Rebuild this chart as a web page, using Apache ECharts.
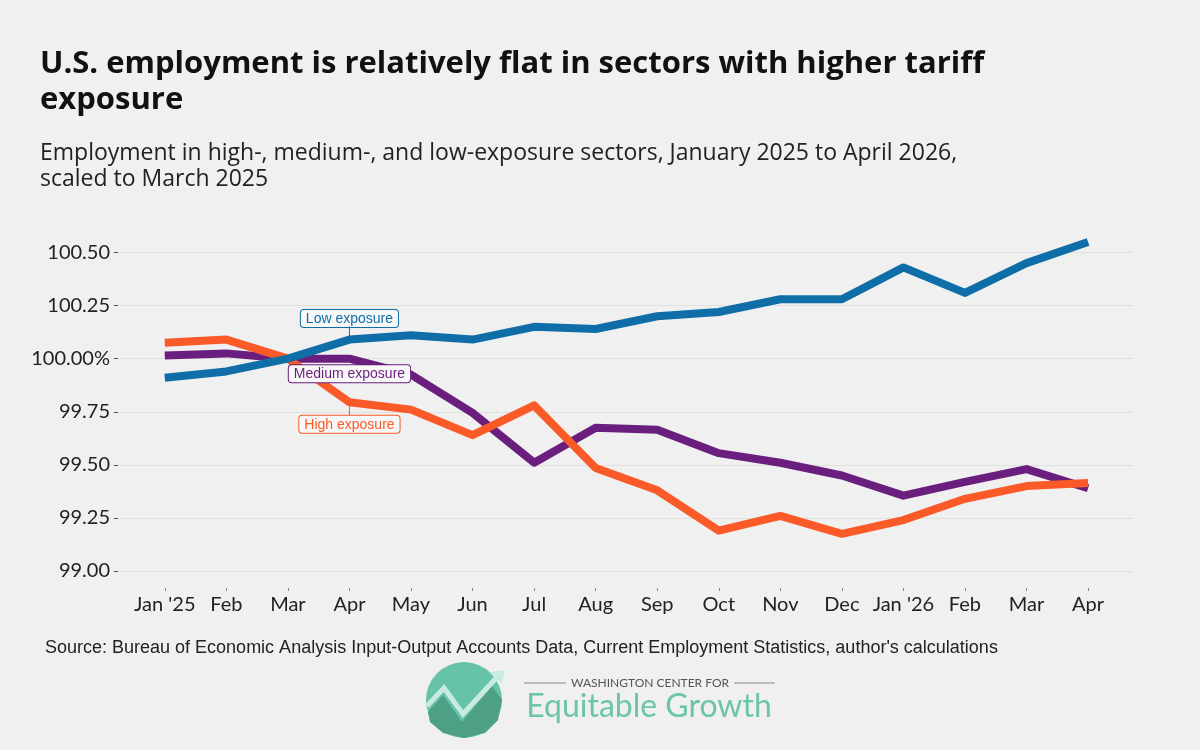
<!DOCTYPE html>
<html>
<head>
<meta charset="utf-8">
<script src="https://cdn.jsdelivr.net/npm/echarts@6/dist/echarts.min.js"></script>
<style>
  html, body { margin: 0; padding: 0; background: #f0f0f0; }
  #chart { width: 1200px; height: 750px; }
</style>
</head>
<body>
<div id="chart"></div>
<script>
// months Jan 2025 .. Apr 2026
let months = ["Jan '25", 'Feb', 'Mar', 'Apr', 'May', 'Jun', 'Jul', 'Aug', 'Sep', 'Oct', 'Nov', 'Dec', "Jan '26", 'Feb', 'Mar', 'Apr'];
let lowExposure = [99.91, 99.94, 100.00, 100.09, 100.11, 100.09, 100.15, 100.14, 100.20, 100.22, 100.28, 100.28, 100.43, 100.31, 100.45, 100.55];
let mediumExposure = [100.015, 100.025, 100.00, 100.00, 99.925, 99.745, 99.51, 99.675, 99.665, 99.555, 99.51, 99.45, 99.355, 99.42, 99.48, 99.39];
let highExposure = [100.075, 100.09, 100.00, 99.795, 99.76, 99.64, 99.78, 99.485, 99.38, 99.19, 99.26, 99.175, 99.24, 99.34, 99.40, 99.415];
let yTicks = [99.00, 99.25, 99.50, 99.75, 100.00, 100.25, 100.50];
let monthIdx = months.map((m, i) => i);

let labelAt = 3; // Apr '25

function pts(arr) {
  return arr.map((v, i) => [i, v]);
}

// stem: 'up' = box above the line, 'down' = box below, null = no stem
function makeSeries(name, arr, color, dy, stem) {
  let text = '{box|' + name + '}';
  if (stem === 'up') text = text + '\n{stem| }';
  if (stem === 'down') text = '{stem| }\n' + text;
  let data = pts(arr).map((p, i) => {
    if (i !== labelAt) return p;
    return {
      value: p,
      label: {
        show: true,
        formatter: text,
        position: 'inside',
        align: 'center',
        rich: {
          box: {
            color: color,
            fontFamily: 'Liberation Sans',
            fontSize: 14,
            lineHeight: 16,
            backgroundColor: '#f8f8f8',
            borderColor: color,
            borderWidth: 1,
            borderRadius: 3,
            padding: [2, 5, 1, 5]
          },
          stem: {
            width: 1,
            height: 12,
            fontSize: 1,
            backgroundColor: color
          }
        }
      }
    };
  });
  return {
    name: name,
    type: 'line',
    data: data,
    showSymbol: true,
    symbol: 'circle',
    symbolSize: 0,
    lineStyle: { color: color, width: 8, join: 'round' },
    itemStyle: { color: color },
    label: { show: false },
    labelLayout: function (params) {
      if (params.dataIndex === labelAt) return { dy: dy };
      return {};
    },
    z: 3
  };
}

var chart = echarts.init(document.getElementById('chart'));

let option = {
  backgroundColor: '#f0f0f0',
  animation: false,
  title: [
    {
      text: 'U.S. employment is relatively flat in sectors with higher tariff\nexposure',
      left: 40,
      top: 46,
      padding: 0,
      textStyle: {
        fontFamily: 'Open Sans',
        fontWeight: 'bold',
        fontSize: 31,
        lineHeight: 36,
        color: '#111'
      }
    },
    {
      text: 'Employment in high-, medium-, and low-exposure sectors, January 2025 to April 2026,\nscaled to March 2025',
      left: 40,
      top: 140,
      padding: 0,
      textStyle: {
        fontFamily: 'Open Sans',
        fontWeight: 'normal',
        fontSize: 23,
        lineHeight: 26,
        color: '#222'
      }
    },
    {
      text: "Source: Bureau of Economic Analysis Input-Output Accounts Data, Current Employment Statistics, author's calculations",
      left: 45,
      top: 639,
      padding: 0,
      textStyle: {
        fontFamily: 'Liberation Sans',
        fontWeight: 'normal',
        fontSize: 18,
        color: '#222'
      }
    }
  ],
  grid: {
    left: 118,
    right: 67,
    top: 226,
    bottom: 179,
    containLabel: false
  },
  xAxis: {
    type: 'value',
    min: -0.76,
    max: 15.73,
    offset: 17,
    axisLine: { show: false, onZero: false },
    splitLine: { show: false },
    axisTick: {
      show: true,
      customValues: monthIdx,
      length: 3,
      lineStyle: { color: '#888' }
    },
    axisLabel: {
      customValues: monthIdx,
      formatter: v => months[Math.round(v)],
      fontFamily: 'Lato',
      fontSize: 20,
      color: '#222',
      margin: 7
    }
  },
  yAxis: {
    type: 'value',
    min: 99,
    max: 100.625,
    interval: 0.125,
    axisLine: { show: false, onZero: false },
    splitLine: { show: true, lineStyle: { color: '#e0e0e0', width: 1 } },
    axisTick: {
      show: true,
      customValues: yTicks,
      length: 4,
      lineStyle: { color: '#555' }
    },
    axisLabel: {
      customValues: yTicks,
      formatter: v => (Math.abs(v - 100) < 1e-6 ? '100.00%' : v.toFixed(2)),
      fontFamily: 'Lato',
      fontSize: 20,
      color: '#222',
      margin: 8
    }
  },
  series: [
    makeSeries('Medium exposure', mediumExposure, '#6a1f7e', 15, null),
    makeSeries('High exposure', highExposure, '#fa5a28', 16, 'down'),
    makeSeries('Low exposure', lowExposure, '#0f6ea8', -15, 'up')
  ],
  graphic: [
    // logo mark
    {
      type: 'circle',
      shape: { cx: 464, cy: 700, r: 38 },
      style: { fill: '#66c2a8' }
    },
    {
      type: 'polygon',
      shape: { points: [[428, 712], [443, 695], [462, 722], [492, 686], [502, 700], [498, 720], [485, 733], [464, 738], [443, 733], [430, 722]] },
      style: { fill: '#4d9f86' }
    },
    {
      type: 'polyline',
      shape: { points: [[427, 706], [444, 688], [463, 714], [498, 676]] },
      style: { stroke: '#c8ebe0', lineWidth: 5, fill: null }
    },
    {
      type: 'polygon',
      shape: { points: [[490, 672], [505, 670], [502, 684]] },
      style: { fill: '#c8ebe0' }
    },
    {
      type: 'line',
      shape: { x1: 524, y1: 683, x2: 566, y2: 683 },
      style: { stroke: '#888', lineWidth: 1 }
    },
    {
      type: 'line',
      shape: { x1: 734, y1: 683, x2: 775, y2: 683 },
      style: { stroke: '#888', lineWidth: 1 }
    },
    {
      type: 'text',
      x: 650,
      y: 683,
      style: {
        text: 'WASHINGTON CENTER FOR',
        fontFamily: 'Lato',
        fontSize: 12,
        fill: '#555',
        align: 'center',
        verticalAlign: 'middle'
      }
    },
    {
      type: 'text',
      x: 649,
      y: 707,
      style: {
        text: 'Equitable Growth',
        fontFamily: 'Lato',
        fontSize: 32,
        fill: '#6cc4a9',
        align: 'center',
        verticalAlign: 'middle'
      }
    }
  ]
};

option && chart.setOption(option);
</script>
</body>
</html>
